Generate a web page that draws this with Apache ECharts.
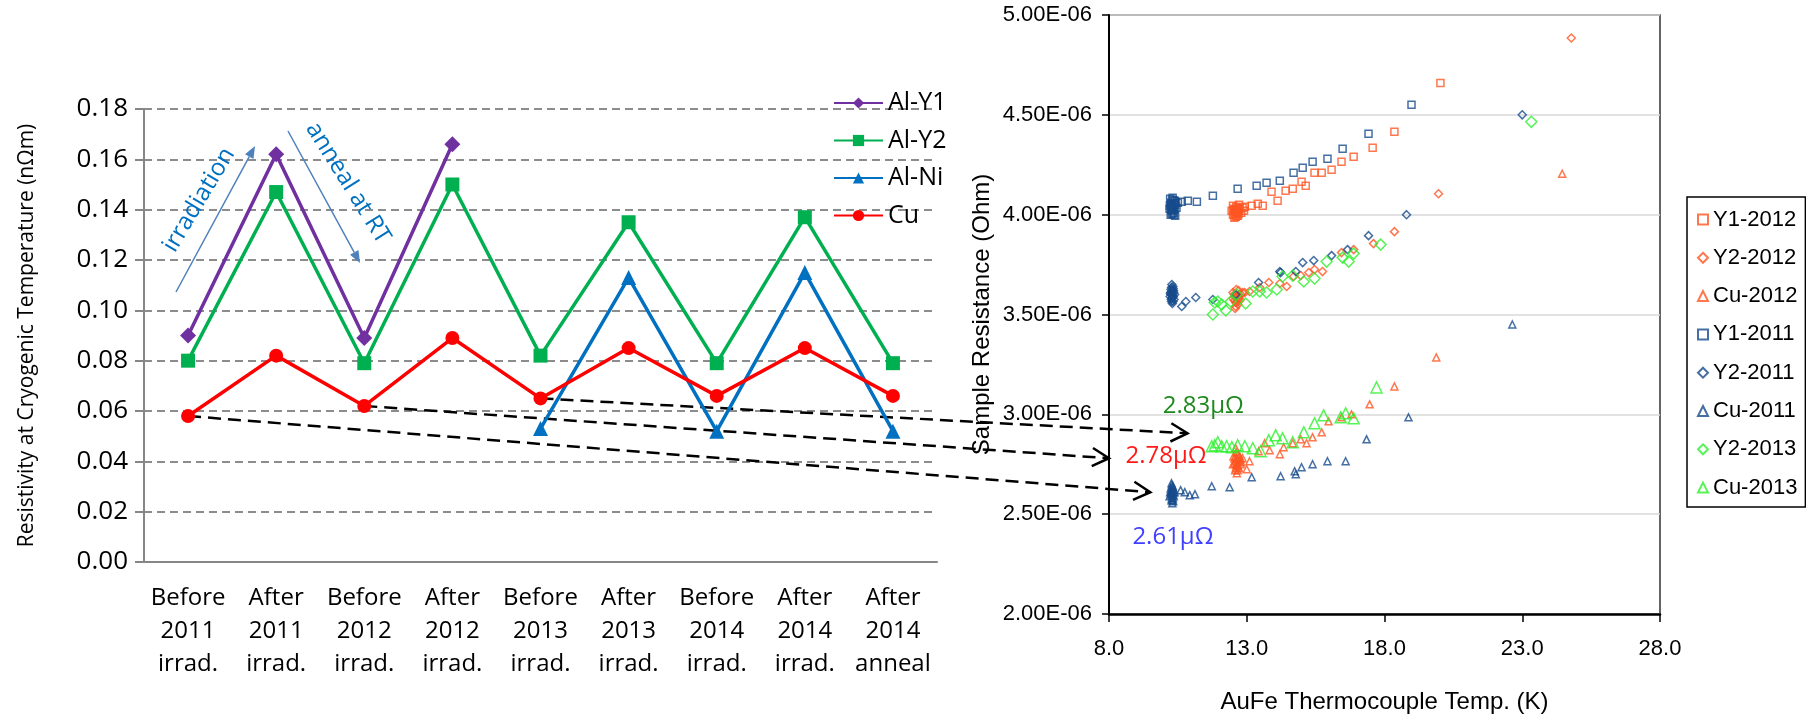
<!DOCTYPE html>
<html>
<head>
<meta charset="utf-8">
<script src="https://cdn.jsdelivr.net/npm/echarts@6/dist/echarts.min.js"></script>
<style>
  html, body { margin: 0; background: #fff; }
  #chart { width: 1806px; height: 721px; }
</style>
</head>
<body>
<div id="chart"></div>
<script>
// left chart: resistivity per stage
const stages = ['Before\n2011\nirrad.', 'After\n2011\nirrad.', 'Before\n2012\nirrad.', 'After\n2012\nirrad.',
  'Before\n2013\nirrad.', 'After\n2013\nirrad.', 'Before\n2014\nirrad.', 'After\n2014\nirrad.', 'After\n2014\nanneal'];
const alY1 = [0.090, 0.162, 0.089, 0.166, '-', '-', '-', '-', '-'];
const alY2 = [0.080, 0.147, 0.079, 0.150, 0.082, 0.135, 0.079, 0.137, 0.079];
const alNi = ['-', '-', '-', '-', 0.053, 0.113, 0.052, 0.115, 0.052];
const cu   = [0.058, 0.082, 0.062, 0.089, 0.065, 0.085, 0.066, 0.085, 0.066];

// right chart: [temp K, resistance in 1E-06 Ohm]
const y1_2012 = [[12.45,4.02],[12.5,4.0],[12.55,4.03],[12.6,3.99],[12.62,4.04],[12.65,4.01],[12.7,4.02],[12.5,4.045],
  [12.58,4.015],[12.68,3.995],[12.75,4.03],[12.8,4.01],[12.85,4.035],[12.55,3.985],[12.72,4.05],[12.9,4.02],
  [12.52,4.025],[12.6,4.025],[12.66,4.035],[12.64,3.995],[12.57,4.005],[12.7,4.005],[12.62,4.015],
  [12.93,4.04],[13.18,4.045],[13.4,4.055],[13.58,4.045],[13.9,4.115],[14.12,4.07],[14.41,4.12],[14.67,4.13],
  [14.99,4.165],[15.14,4.145],[15.46,4.21],[15.72,4.21],[16.08,4.225],[16.44,4.265],[16.88,4.29],[17.57,4.335],
  [18.36,4.415],[20.03,4.66]];
const y2_2012 = [[12.5,3.58],[12.55,3.6],[12.6,3.56],[12.65,3.59],[12.7,3.62],[12.6,3.54],[12.75,3.57],[12.5,3.61],
  [12.8,3.6],[12.58,3.53],[12.68,3.55],[12.85,3.61],[12.62,3.625],[12.55,3.57],
  [12.56,3.59],[12.64,3.575],[12.7,3.595],[12.6,3.6],[12.66,3.565],[12.72,3.58],
  [12.93,3.61],[13.1,3.615],[13.47,3.635],[13.8,3.66],[14.2,3.655],[14.45,3.64],[14.7,3.69],[14.96,3.695],
  [15.25,3.71],[15.46,3.725],[15.75,3.715],[16.44,3.81],[16.88,3.825],[17.6,3.855],[18.36,3.915],[19.96,4.105],
  [24.78,4.885]];
const cu_2012 = [[12.5,2.75],[12.55,2.78],[12.6,2.73],[12.65,2.76],[12.7,2.8],[12.58,2.72],[12.75,2.77],[12.62,2.81],
  [12.68,2.74],[12.8,2.76],[12.52,2.79],[12.72,2.73],[12.85,2.78],[12.6,2.83],[12.78,2.75],
  [12.56,2.755],[12.63,2.775],[12.66,2.74],[12.7,2.765],[12.6,2.79],[12.73,2.79],[12.67,2.72],[12.58,2.765],
  [12.62,2.745],[12.77,2.78],
  [12.64,2.705],[13.0,2.725],[13.1,2.765],[13.43,2.815],[13.65,2.855],[13.83,2.82],[14.2,2.8],[14.34,2.835],
  [14.67,2.855],[14.96,2.875],[15.17,2.855],[15.39,2.885],[15.72,2.91],[15.97,2.965],[16.44,2.985],[16.8,3.0],
  [17.46,3.05],[18.36,3.14],[19.88,3.285],[24.45,4.205]];
const y1_2011 = [[10.2,4.03],[10.25,4.06],[10.3,4.04],[10.35,4.07],[10.28,4.02],[10.4,4.05],[10.22,4.08],[10.33,4.01],
  [10.38,4.03],[10.3,4.075],[10.26,4.045],[10.42,4.06],[10.35,4.0],[10.45,4.035],[10.5,4.06],[10.4,3.995],
  [10.24,4.0],[10.27,4.055],[10.31,4.085],[10.36,4.025],[10.29,4.005],[10.34,4.05],[10.21,4.045],[10.39,4.07],
  [10.32,4.035],[10.26,4.025],
  [10.64,4.065],[10.86,4.07],[11.19,4.065],[11.77,4.095],[12.67,4.13],[13.36,4.145],[13.72,4.16],[14.2,4.17],
  [14.7,4.21],[15.03,4.235],[15.39,4.265],[15.93,4.28],[16.48,4.33],[17.42,4.405],[18.98,4.55]];
const y2_2011 = [[10.25,3.6],[10.3,3.62],[10.28,3.58],[10.35,3.61],[10.22,3.59],[10.32,3.64],[10.27,3.565],[10.38,3.6],
  [10.3,3.555],[10.33,3.63],[10.25,3.625],[10.36,3.575],[10.3,3.6],[10.28,3.65],
  [10.24,3.61],[10.29,3.595],[10.31,3.585],[10.34,3.62],[10.26,3.575],[10.32,3.565],[10.27,3.635],[10.29,3.615],
  [10.33,3.59],[10.23,3.605],
  [10.64,3.54],[10.79,3.565],[11.15,3.585],[11.77,3.575],[12.6,3.6],[13.43,3.66],[14.2,3.715],[14.23,3.71],
  [14.78,3.715],[15.03,3.76],[15.43,3.77],[16.08,3.795],[16.66,3.825],[17.42,3.895],[18.8,4.0],[23.0,4.5]];
const cu_2011 = [[10.25,2.6],[10.3,2.62],[10.28,2.58],[10.32,2.64],[10.22,2.61],[10.35,2.59],[10.27,2.655],[10.3,2.57],
  [10.38,2.61],[10.24,2.63],[10.33,2.6],[10.3,2.555],[10.35,2.625],[10.2,2.59],
  [10.26,2.61],[10.29,2.595],[10.31,2.635],[10.34,2.61],[10.27,2.57],[10.32,2.58],[10.28,2.645],[10.25,2.62],
  [10.3,2.6],[10.33,2.565],
  [10.6,2.62],[10.75,2.61],[10.93,2.595],[11.12,2.6],[11.73,2.64],[12.38,2.635],[13.18,2.685],[14.23,2.69],
  [14.74,2.715],[14.78,2.70],[14.99,2.735],[15.39,2.75],[15.93,2.765],[16.59,2.765],[17.35,2.875],[18.87,2.985],
  [22.64,3.45]];
const y2_2013 = [[11.77,3.5],[11.84,3.56],[11.95,3.565],[12.09,3.55],[12.24,3.52],[12.42,3.565],[12.64,3.6],[12.96,3.555],
  [13.22,3.615],[13.47,3.615],[13.72,3.61],[14.09,3.625],[14.3,3.69],[14.67,3.695],[15.07,3.665],[15.46,3.68],
  [15.9,3.765],[16.48,3.785],[16.7,3.765],[16.88,3.805],[17.86,3.85],[23.33,4.465]];
const cu_2013 = [[11.73,2.84],[11.84,2.845],[11.95,2.86],[12.09,2.84],[12.27,2.84],[12.46,2.835],[12.67,2.845],[12.93,2.84],
  [13.22,2.83],[13.5,2.815],[13.8,2.87],[14.05,2.895],[14.3,2.88],[14.67,2.86],[15.07,2.91],[15.46,2.955],
  [15.79,2.995],[16.41,2.985],[16.59,3.005],[16.88,2.98],[17.71,3.135]];

// arrows from Cu points (stage index) to values on the right chart
const linkStage = [0, 2, 4];
const linkTarget = [[9.5, 2.61], [8.0, 2.78], [10.85, 2.905]];
const linkText = ['2.61μΩ', '2.78μΩ', '2.83μΩ'];
const linkTextAt = [[10.32, 2.385], [10.07, 2.79], [11.42, 3.04]];
const linkColor = ['#4040ff', '#ff1a1a', '#1e8a1e'];

const F1 = '"Open Sans", "Noto Sans", sans-serif';
const F2 = '"Liberation Sans", Arial, sans-serif';

const orange = '#ff5522', navy = '#164b8c', lime = '#2df02d';

function lineSeries(name, data, color, symbol, size) {
  return {
    name, type: 'line', data, xAxisIndex: 0, yAxisIndex: 0,
    symbol, symbolSize: size,
    lineStyle: { color, width: 3.5 },
    itemStyle: { color }
  };
}
function scatter(name, data, color, symbol, size) {
  return {
    name, type: 'scatter', xAxisIndex: 1, yAxisIndex: 1,
    data, symbol, symbolSize: size,
    itemStyle: { color: 'rgba(255,255,255,0)', borderColor: color, borderWidth: 1.5 }
  };
}

const chart = echarts.init(document.getElementById('chart'));
const option = {
  animation: false,
  grid: [
    { left: 144, right: 869, top: 109, bottom: 159 },
    { left: 1109, right: 146, top: 15, bottom: 107, show: true, borderColor: '#333', borderWidth: 1.5 }
  ],
  legend: [
    {
      data: ['Al-Y1', 'Al-Y2', 'Al-Ni', 'Cu'],
      orient: 'vertical', left: 833, top: 89, padding: 0,
      itemWidth: 49, itemHeight: 14, itemGap: 9.5,
      textStyle: { fontFamily: F1, fontSize: 25, lineHeight: 28, color: '#000' }
    },
    {
      data: ['Y1-2012', 'Y2-2012', 'Cu-2012', 'Y1-2011', 'Y2-2011', 'Cu-2011', 'Y2-2013', 'Cu-2013'],
      orient: 'vertical', left: 1687, top: 197, padding: [8, 8, 5, 10],
      itemWidth: 10, itemHeight: 10, itemGap: 9.3,
      borderColor: '#000', borderWidth: 1.5,
      textStyle: { fontFamily: F2, fontSize: 22, lineHeight: 29, color: '#000' }
    }
  ],
  xAxis: [
    {
      gridIndex: 0, type: 'category', data: stages,
      axisLine: { lineStyle: { color: '#868686', width: 2 } },
      axisTick: { length: 8, lineStyle: { color: '#868686', width: 2 } },
      axisLabel: { color: '#000', fontFamily: F1, fontSize: 24, lineHeight: 33, margin: 20, interval: 0 }
    },
    {
      gridIndex: 1, type: 'value', min: 8, max: 28, interval: 5,
      axisLine: { lineStyle: { color: '#000', width: 2.5 } },
      axisTick: { length: 8, lineStyle: { color: '#000', width: 1.5 } },
      axisLabel: { color: '#000', fontFamily: F2, fontSize: 22, margin: 24, formatter: v => v.toFixed(1) },
      splitLine: { show: false },
      name: 'AuFe Thermocouple Temp. (K)', nameLocation: 'middle', nameGap: 76,
      nameTextStyle: { color: '#000', fontFamily: F2, fontSize: 24 }
    }
  ],
  yAxis: [
    {
      gridIndex: 0, type: 'value', min: 0, max: 0.18, interval: 0.02,
      axisLine: { show: true, lineStyle: { color: '#868686', width: 2 } },
      axisTick: { show: true, length: 9, lineStyle: { color: '#868686', width: 2 } },
      axisLabel: { color: '#000', fontFamily: F1, fontSize: 26, margin: 16, formatter: v => v.toFixed(2) },
      splitLine: { lineStyle: { color: '#8c8c8c', width: 2, type: [8, 5] } },
      name: 'Resistivity at Cryogenic Temperature (nΩm)', nameLocation: 'middle', nameGap: 106,
      nameTextStyle: { color: '#000', fontFamily: F1, fontSize: 21 }
    },
    {
      gridIndex: 1, type: 'value', min: 2, max: 5, interval: 0.5,
      axisLine: { show: true, lineStyle: { color: '#000', width: 2 } },
      axisTick: { show: true, length: 7, lineStyle: { color: '#000', width: 1.5 } },
      axisLabel: { color: '#000', fontFamily: F2, fontSize: 22, margin: 17, formatter: v => v.toFixed(2) + 'E-06' },
      splitLine: { lineStyle: { color: '#d9d9d9', width: 1.5 } },
      name: 'Sample Resistance (Ohm)', nameLocation: 'middle', nameGap: 115,
      nameTextStyle: { color: '#000', fontFamily: F2, fontSize: 24 }
    }
  ],
  series: [
    lineSeries('Al-Y1', alY1, '#7030a0', 'diamond', 16),
    lineSeries('Al-Y2', alY2, '#00b050', 'rect', 14),
    lineSeries('Al-Ni', alNi, '#0070c0', 'triangle', 15),
    lineSeries('Cu', cu, '#ff0000', 'circle', 14),
    scatter('Y1-2012', y1_2012, orange, 'rect', 7),
    scatter('Y2-2012', y2_2012, orange, 'diamond', 8),
    scatter('Cu-2012', cu_2012, orange, 'triangle', 7),
    scatter('Y1-2011', y1_2011, navy, 'rect', 7),
    scatter('Y2-2011', y2_2011, navy, 'diamond', 8),
    scatter('Cu-2011', cu_2011, navy, 'triangle', 7),
    scatter('Y2-2013', y2_2013, lime, 'diamond', 11),
    scatter('Cu-2013', cu_2013, lime, 'triangle', 11)
  ]
};
chart.setOption(option);

// annotation overlay
function head(tip, from, len, ang) {
  const a = Math.atan2(tip[1] - from[1], tip[0] - from[0]);
  return [
    [tip[0] - len * Math.cos(a - ang), tip[1] - len * Math.sin(a - ang)],
    tip,
    [tip[0] - len * Math.cos(a + ang), tip[1] - len * Math.sin(a + ang)]
  ];
}
const g = [];
linkStage.forEach((s, i) => {
  const p0 = chart.convertToPixel({ gridIndex: 0 }, [s, cu[s]]);
  const p1 = chart.convertToPixel({ gridIndex: 1 }, linkTarget[i]);
  g.push({ type: 'line', z: 1, shape: { x1: p0[0], y1: p0[1], x2: p1[0], y2: p1[1] },
    style: { stroke: '#000', lineWidth: 2.5, lineDash: [13, 7] } });
  g.push({ type: 'polyline', z: 1, shape: { points: head(p1, p0, 19, 0.5) },
    style: { stroke: '#000', lineWidth: 2.5, fill: null } });
  const t = chart.convertToPixel({ gridIndex: 1 }, linkTextAt[i]);
  g.push({ type: 'text', z: 5, x: t[0], y: t[1],
    style: { text: linkText[i], fill: linkColor[i], fontFamily: F1, fontSize: 24, align: 'center', verticalAlign: 'middle' } });
});
// irradiation / anneal arrows on the left chart
const arrows = [[[176, 292], [255, 146]], [[288, 131], [360, 263]]];
arrows.forEach(([a, b]) => {
  const h = head(b, a, 13, 0.38);
  const base = [(h[0][0] + h[2][0]) / 2, (h[0][1] + h[2][1]) / 2];
  g.push({ type: 'line', z: 1, shape: { x1: a[0], y1: a[1], x2: base[0], y2: base[1] },
    style: { stroke: '#4f81bd', lineWidth: 1.5 } });
  g.push({ type: 'polygon', z: 1, shape: { points: h }, style: { fill: '#4f81bd' } });
});
g.push({ type: 'text', x: 199, y: 200, rotation: 59 * Math.PI / 180,
  style: { text: 'irradiation', fill: '#0070c0', fontFamily: F1, fontSize: 24, align: 'center', verticalAlign: 'middle' } });
g.push({ type: 'text', x: 348, y: 183, rotation: -58 * Math.PI / 180,
  style: { text: 'anneal at RT', fill: '#0070c0', fontFamily: F1, fontSize: 24, align: 'center', verticalAlign: 'middle' } });
chart.setOption({ graphic: g });
</script>
</body>
</html>
